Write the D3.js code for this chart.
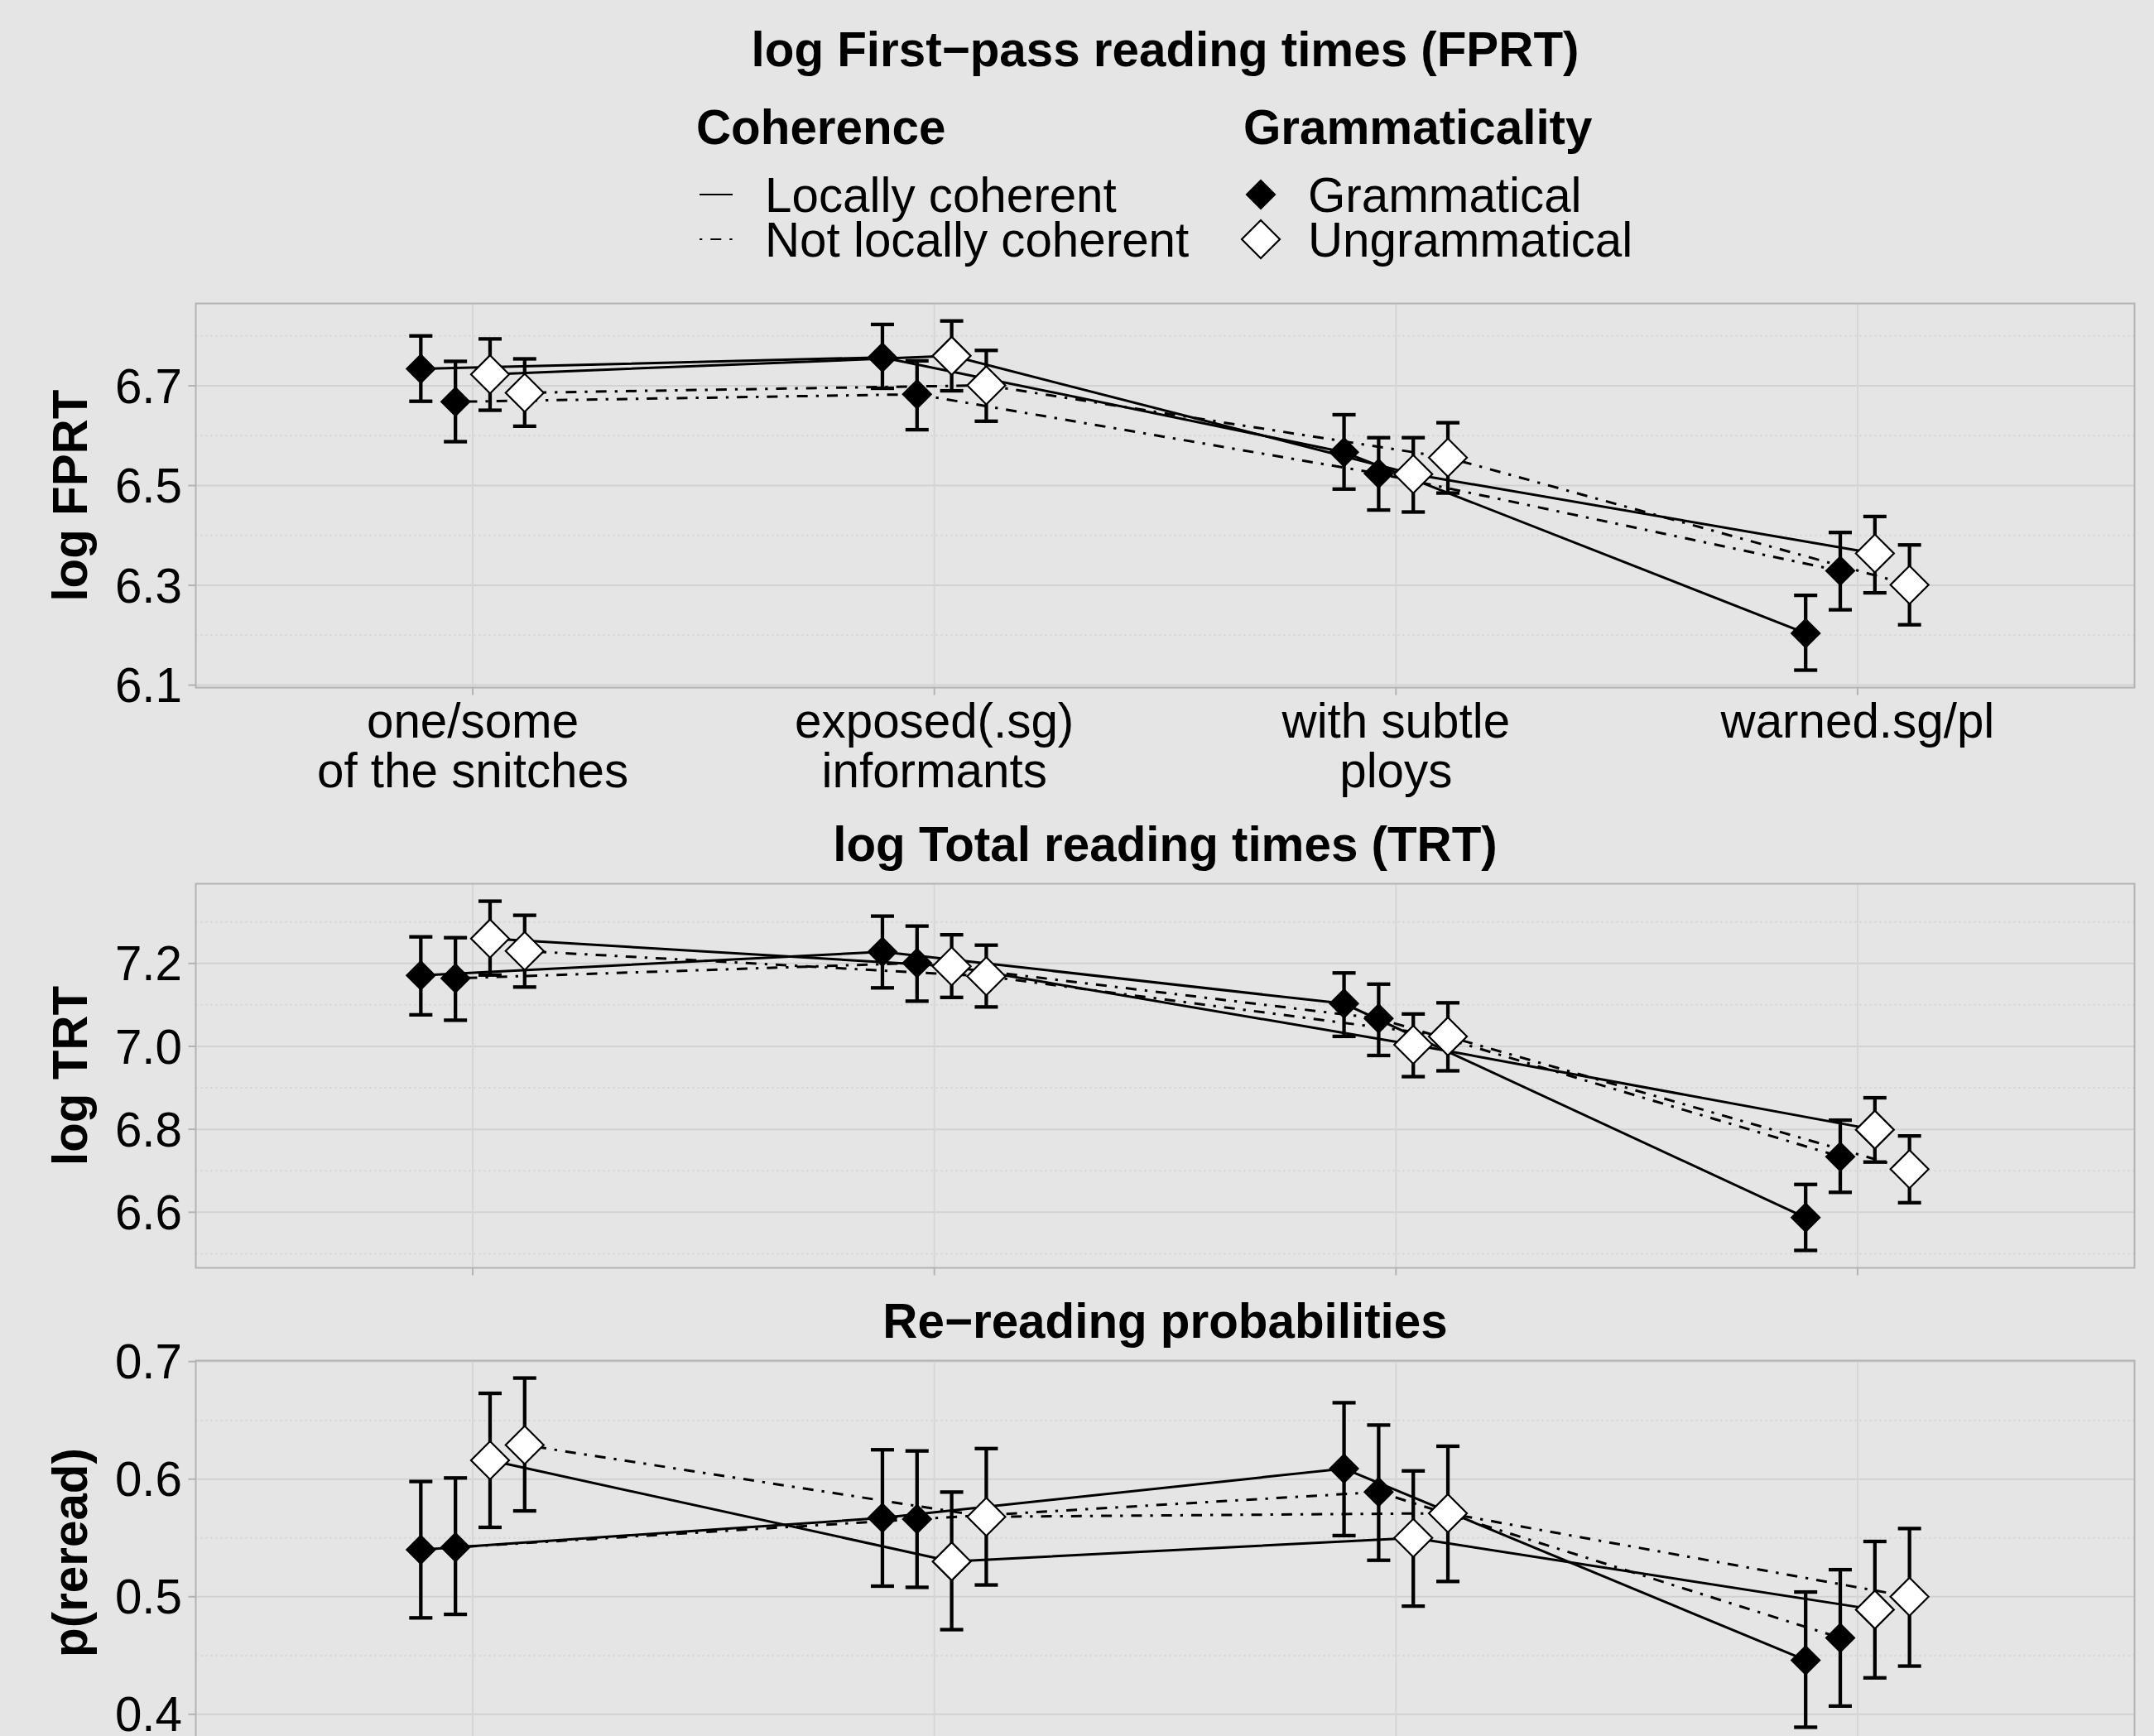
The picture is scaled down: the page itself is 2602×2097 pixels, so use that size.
<!DOCTYPE html>
<html>
<head>
<meta charset="utf-8">
<script src="https://cdn.jsdelivr.net/npm/d3@7"></script>
<style>
html,body{margin:0;padding:0;background:#e5e5e5;}
svg{display:block;}
text{font-family:"Liberation Sans",Arial,Helvetica,sans-serif;fill:#000;}
</style>
</head>
<body>
<script>
// ---------------- DATA ----------------
const categories = [["one/some","of the snitches"],["exposed(.sg)","informants"],["with subtle","ploys"],["warned.sg/pl"]];
// groups in dodge order
const groupNames   = ["Grammatical / Locally coherent","Grammatical / Not locally coherent","Ungrammatical / Locally coherent","Ungrammatical / Not locally coherent"];
const groupGramm   = ["Grammatical","Grammatical","Ungrammatical","Ungrammatical"];
const groupCoher   = ["Locally coherent","Not locally coherent","Locally coherent","Not locally coherent"];

// log FPRT: rows = groups, cols = categories
const fprtMean  = [[6.734,6.757,6.567,6.204],[6.668,6.683,6.524,6.329],[6.723,6.760,6.523,6.364],[6.686,6.701,6.556,6.301]];
const fprtUpper = [[6.800,6.823,6.642,6.280],[6.749,6.750,6.596,6.406],[6.794,6.830,6.596,6.438],[6.754,6.771,6.626,6.381]];
const fprtLower = [[6.669,6.695,6.493,6.130],[6.588,6.612,6.451,6.251],[6.651,6.690,6.447,6.285],[6.619,6.629,6.485,6.221]];

// log TRT
const trtMean  = [[7.171,7.228,7.103,6.587],[7.164,7.201,7.067,6.734],[7.260,7.193,7.004,6.799],[7.230,7.169,7.024,6.704]];
const trtUpper = [[7.264,7.314,7.177,6.667],[7.262,7.290,7.150,6.822],[7.350,7.269,7.078,6.876],[7.316,7.244,7.105,6.784]];
const trtLower = [[7.076,7.141,7.024,6.508],[7.063,7.109,6.978,6.648],[7.172,7.118,6.927,6.721],[7.143,7.095,6.941,6.623]];

// p(reread)
const rrMean  = [[0.540,0.567,0.609,0.446],[0.542,0.566,0.589,0.465],[0.616,0.530,0.550,0.489],[0.629,0.568,0.571,0.500]];
const rrUpper = [[0.598,0.625,0.665,0.504],[0.601,0.624,0.646,0.523],[0.673,0.589,0.607,0.547],[0.686,0.626,0.628,0.558]];
const rrLower = [[0.482,0.509,0.552,0.389],[0.485,0.508,0.531,0.407],[0.559,0.472,0.492,0.431],[0.573,0.510,0.513,0.441]];

const fprtTicks = [6.1,6.3,6.5,6.7], fprtMinor = [6.2,6.4,6.6,6.8];
const trtTicks  = [6.6,6.8,7.0,7.2], trtMinor  = [6.5,6.7,6.9,7.1,7.3];
const rrTicks   = [0.4,0.5,0.6,0.7], rrMinor   = [0.45,0.55,0.65];

const titles  = ["log First\u2212pass reading times (FPRT)","log Total reading times (TRT)","Re\u2212reading probabilities"];
const yTitles = ["log FPRT","log TRT","p(reread)"];
const legendCohTitle = "Coherence", legendGramTitle = "Grammaticality";
const cohLevels = ["Locally coherent","Not locally coherent"];
const gramLevels = ["Grammatical","Ungrammatical"];

// ---------------- LAYOUT ----------------
const W = 2602, H = 2097;
const FS = 58.33;
const left = 236.5, right = 2578.5, panelH = 464;
const panelTops = [366.6, 1067.5, 1643.5];
const titleBaselines = [80, 1040, 1616];
const BG = "#e5e5e5";

const svg = d3.select("body").append("svg").attr("width", W).attr("height", H);
svg.append("rect").attr("width", W).attr("height", H).attr("fill", BG);

const x = d3.scalePoint().domain(d3.range(categories.length)).range([left, right]).padding(0.6);
const step = x.step();
const dodge = d3.scalePoint().domain(d3.range(groupNames.length)).range([-0.1125*step, 0.1125*step]);

const dashFor = c => c === "Locally coherent" ? null : "3.3,10,13,10";

function diamond(sel, cx, cy, filled) {
  const r = filled ? 18.5 : 23;
  sel.append("path")
    .attr("d", `M${cx},${cy-r}L${cx+r},${cy}L${cx},${cy+r}L${cx-r},${cy}Z`)
    .attr("fill", filled ? "#000" : "#fff")
    .attr("stroke", "#000")
    .attr("stroke-width", filled ? 0 : 2.2)
    .attr("stroke-linejoin", "miter");
}

const panels = [
  {mean: fprtMean, up: fprtUpper, lo: fprtLower, ticks: fprtTicks, minor: fprtMinor, xlabels: true},
  {mean: trtMean,  up: trtUpper,  lo: trtLower,  ticks: trtTicks,  minor: trtMinor,  xlabels: false},
  {mean: rrMean,   up: rrUpper,   lo: rrLower,   ticks: rrTicks,   minor: rrMinor,   xlabels: false}
];

panels.forEach((p, pi) => {
  const top = panelTops[pi], bottom = top + panelH;
  const lo = d3.min(p.lo.flat()), hi = d3.max(p.up.flat());
  const pad = (hi - lo) * 0.05;
  const y = d3.scaleLinear().domain([lo - pad, hi + pad]).range([bottom, top]);
  const g = svg.append("g");

  // title
  g.append("text").attr("x", (left+right)/2).attr("y", titleBaselines[pi])
    .attr("text-anchor", "middle").attr("font-weight", "bold").attr("font-size", FS)
    .text(titles[pi]);

  // panel background
  g.append("rect").attr("x", left).attr("y", top).attr("width", right-left).attr("height", panelH).attr("fill", BG);

  // minor grid
  g.selectAll(".minor").data(p.minor).join("line")
    .attr("x1", left).attr("x2", right).attr("y1", d => y(d)).attr("y2", d => y(d))
    .attr("stroke", "#d3d3d3").attr("stroke-width", 2).attr("stroke-dasharray", "2,4");
  // major grid
  g.selectAll(".major").data(p.ticks).join("line")
    .attr("x1", left).attr("x2", right).attr("y1", d => y(d)).attr("y2", d => y(d))
    .attr("stroke", "#d2d2d2").attr("stroke-width", 2);
  g.selectAll(".vgrid").data(x.domain()).join("line")
    .attr("x1", d => x(d)).attr("x2", d => x(d)).attr("y1", top).attr("y2", bottom)
    .attr("stroke", "#d6d6d6").attr("stroke-width", 2);

  const clip = g.append("g");

  // lines
  p.mean.forEach((row, gi) => {
    const line = d3.line().x((d, ci) => x(ci) + dodge(gi)).y(d => y(d));
    clip.append("path").attr("d", line(row)).attr("fill", "none")
      .attr("stroke", "#000").attr("stroke-width", 3)
      .attr("stroke-dasharray", dashFor(groupCoher[gi]));
  });
  // error bars
  p.mean.forEach((row, gi) => {
    row.forEach((m, ci) => {
      const cx = x(ci) + dodge(gi);
      const y1 = y(p.up[gi][ci]), y2 = y(p.lo[gi][ci]);
      clip.append("line").attr("x1", cx).attr("x2", cx).attr("y1", y1).attr("y2", y2)
        .attr("stroke", "#000").attr("stroke-width", 4.3);
      [y1, y2].forEach(yy => clip.append("line").attr("x1", cx-14).attr("x2", cx+14)
        .attr("y1", yy).attr("y2", yy).attr("stroke", "#000").attr("stroke-width", 4.3));
    });
  });
  // points
  p.mean.forEach((row, gi) => {
    row.forEach((m, ci) => diamond(clip, x(ci) + dodge(gi), y(m), groupGramm[gi] === "Grammatical"));
  });

  // border
  g.append("rect").attr("x", left).attr("y", top).attr("width", right-left).attr("height", panelH)
    .attr("fill", "none").attr("stroke", "#b3b3b3").attr("stroke-width", 2);

  // y axis ticks + labels
  g.selectAll(".yt").data(p.ticks).join("line")
    .attr("x1", left-9).attr("x2", left).attr("y1", d => y(d)).attr("y2", d => y(d))
    .attr("stroke", "#b3b3b3").attr("stroke-width", 2);
  g.selectAll(".yl").data(p.ticks).join("text")
    .attr("x", 220).attr("y", d => y(d)).attr("dy", "0.355em")
    .attr("text-anchor", "end").attr("font-size", FS)
    .text(d => d3.format(".1f")(d));
  // x ticks
  g.selectAll(".xt").data(x.domain()).join("line")
    .attr("x1", d => x(d)).attr("x2", d => x(d)).attr("y1", bottom).attr("y2", bottom+9)
    .attr("stroke", "#b3b3b3").attr("stroke-width", 2);
  if (p.xlabels) {
    categories.forEach((lines, ci) => {
      const t = g.append("text").attr("text-anchor", "middle").attr("font-size", FS);
      lines.forEach((l, li) => t.append("tspan").attr("x", x(ci)).attr("y", bottom + 60 + li*60.5).text(l));
    });
  }
  // y title
  g.append("text").attr("transform", `translate(105,${(top+bottom)/2}) rotate(-90)`)
    .attr("text-anchor", "middle").attr("font-weight", "bold").attr("font-size", FS)
    .text(yTitles[pi]);
});

// main legend
const lg = svg.append("g");
lg.append("text").attr("x", 841).attr("y", 174).attr("font-weight", "bold").attr("font-size", FS).text(legendCohTitle);
lg.append("text").attr("x", 1502).attr("y", 174).attr("font-weight", "bold").attr("font-size", FS).text(legendGramTitle);
cohLevels.forEach((c, i) => {
  const yy = 235 + i*54;
  lg.append("line").attr("x1", 845).attr("x2", 885).attr("y1", yy).attr("y2", yy)
    .attr("stroke", "#000").attr("stroke-width", 1.8).attr("stroke-dasharray", dashFor(c));
  lg.append("text").attr("x", 924).attr("y", yy + 21).attr("font-size", FS).text(c);
});
gramLevels.forEach((gname, i) => {
  const yy = 235 + i*54;
  diamond(lg, 1523, yy, gname === "Grammatical");
  lg.append("text").attr("x", 1580).attr("y", yy + 21).attr("font-size", FS).text(gname);
});
</script>
</body>
</html>
